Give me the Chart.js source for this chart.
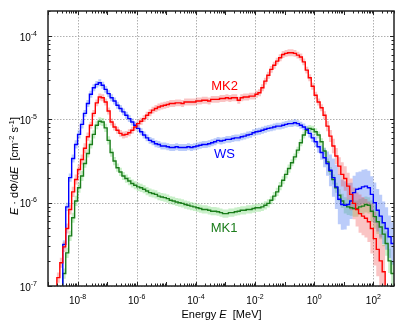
<!DOCTYPE html>
<html><head><meta charset="utf-8">
<script src="https://cdn.jsdelivr.net/npm/chart.js@4/dist/chart.umd.min.js"></script>
<style>html,body{margin:0;padding:0;background:#fff}#wrap{width:415px;height:323px}</style>
</head><body><div id="wrap"><canvas id="c" width="415" height="323" style="width:415px;height:323px"></canvas></div>
<script>
// Histogram bin edges, as log10(E / MeV)
const binEdgeExp = [
 -8.8,-8.7,-8.6,-8.5,-8.4,-8.3,-8.2,-8.1,-8.0,-7.9,
 -7.8,-7.7,-7.6,-7.5,-7.4,-7.3,-7.2,-7.1,-7.0,-6.9,
 -6.8,-6.7,-6.6,-6.5,-6.4,-6.3,-6.2,-6.1,-6.0,-5.9,
 -5.8,-5.7,-5.6,-5.5,-5.4,-5.3,-5.2,-5.1,-5.0,-4.9,
 -4.8,-4.7,-4.6,-4.5,-4.4,-4.3,-4.2,-4.1,-4.0,-3.9,
 -3.8,-3.7,-3.6,-3.5,-3.4,-3.3,-3.2,-3.1,-3.0,-2.9,
 -2.8,-2.7,-2.6,-2.5,-2.4,-2.3,-2.2,-2.1,-2.0,-1.9,
 -1.8,-1.7,-1.6,-1.5,-1.4,-1.3,-1.2,-1.1,-1.0,-0.9,
 -0.8,-0.7,-0.6,-0.5,-0.4,-0.3,-0.2,-0.1,0.0,0.1,
 0.2,0.3,0.4,0.5,0.6,0.7,0.8,0.9,1.0,1.1,
 1.2,1.3,1.4,1.5,1.6,1.7,1.8,1.9,2.0,2.1,
 2.2,2.3,2.4,2.5,2.6,2.7];

// E·dΦ/dE per bin [cm^-2 s^-1]
const mk2Flux = [
 7.9e-8,1.26e-7,1.9e-7,2.95e-7,4.9e-7,8.3e-7,1.35e-6,1.9e-6,2.5e-6,3.3e-6,
 4.5e-6,6.2e-6,8.5e-6,1.18e-5,1.58e-5,1.86e-5,1.82e-5,1.62e-5,1.26e-5,9.3e-6,
 8.1e-6,7.4e-6,6.8e-6,6.5e-6,6.6e-6,6.9e-6,7.4e-6,8.1e-6,8.9e-6,9.5e-6,
 1.02e-5,1.12e-5,1.20e-5,1.29e-5,1.35e-5,1.41e-5,1.45e-5,1.48e-5,1.51e-5,1.55e-5,
 1.55e-5,1.58e-5,1.58e-5,1.55e-5,1.62e-5,1.62e-5,1.62e-5,1.62e-5,1.66e-5,1.66e-5,
 1.70e-5,1.70e-5,1.66e-5,1.74e-5,1.74e-5,1.74e-5,1.78e-5,1.78e-5,1.82e-5,1.78e-5,
 1.82e-5,1.82e-5,1.70e-5,1.82e-5,1.86e-5,1.86e-5,1.9e-5,1.9e-5,2.0e-5,2.09e-5,
 2.4e-5,2.88e-5,3.39e-5,3.98e-5,4.47e-5,5.0e-5,5.5e-5,6.0e-5,6.2e-5,6.3e-5,
 6.3e-5,6.2e-5,5.9e-5,5.6e-5,4.9e-5,3.9e-5,3.16e-5,2.5e-5,1.95e-5,1.62e-5,
 1.38e-5,1.12e-5,8.3e-6,6.3e-6,4.8e-6,3.63e-6,2.75e-6,2.19e-6,1.95e-6,1.58e-6,
 1.26e-6,9.8e-7,8.3e-7,7.4e-7,6.9e-7,6.5e-7,5.9e-7,4.9e-7,3.7e-7,2.75e-7,
 2.0e-7,1.48e-7,7.9e-8,null,null];

const wsFlux = [
 null,null,5.0e-8,3.16e-7,8.9e-7,2.0e-6,3.39e-6,5.0e-6,6.6e-6,8.7e-6,
 1.18e-5,1.55e-5,2.0e-5,2.4e-5,2.63e-5,2.75e-5,2.57e-5,2.29e-5,2.04e-5,1.82e-5,
 1.66e-5,1.48e-5,1.35e-5,1.23e-5,1.12e-5,1.02e-5,9.3e-6,8.5e-6,7.8e-6,7.1e-6,
 6.5e-6,6.0e-6,5.6e-6,5.4e-6,5.1e-6,5.0e-6,4.8e-6,4.8e-6,4.7e-6,4.6e-6,
 4.6e-6,4.7e-6,4.6e-6,4.6e-6,4.6e-6,4.7e-6,4.6e-6,4.7e-6,4.8e-6,4.9e-6,
 5.0e-6,5.0e-6,5.1e-6,5.25e-6,5.4e-6,5.6e-6,5.5e-6,5.6e-6,5.75e-6,5.75e-6,
 5.9e-6,6.0e-6,6.0e-6,6.2e-6,6.3e-6,6.5e-6,6.6e-6,6.9e-6,7.1e-6,7.2e-6,
 7.4e-6,7.6e-6,7.8e-6,7.9e-6,8.1e-6,8.3e-6,8.3e-6,8.5e-6,8.7e-6,8.9e-6,
 8.9e-6,9.1e-6,8.9e-6,8.5e-6,8.1e-6,7.6e-6,6.8e-6,6.0e-6,5.4e-6,4.7e-6,
 4.0e-6,3.47e-6,2.95e-6,2.45e-6,2.0e-6,1.55e-6,1.10e-6,9.5e-7,9.3e-7,9.5e-7,
 1.05e-6,1.32e-6,1.45e-6,1.48e-6,1.55e-6,1.58e-6,1.51e-6,1.26e-6,1.0e-6,8.1e-7,
 6.9e-7,5.75e-7,4.9e-7,3.9e-7,3.24e-7];

const mk1Flux = [
 null,null,6.3e-8,1.41e-7,2.5e-7,4.0e-7,6.6e-7,1.05e-6,1.51e-6,2.09e-6,
 2.95e-6,3.9e-6,5.0e-6,6.6e-6,8.5e-6,9.5e-6,9.3e-6,7.9e-6,5.6e-6,4.0e-6,
 3.16e-6,2.63e-6,2.34e-6,2.09e-6,1.95e-6,1.82e-6,1.70e-6,1.62e-6,1.55e-6,1.51e-6,
 1.45e-6,1.38e-6,1.32e-6,1.29e-6,1.26e-6,1.20e-6,1.17e-6,1.15e-6,1.12e-6,1.07e-6,
 1.05e-6,1.02e-6,1.0e-6,9.8e-7,9.5e-7,9.3e-7,9.1e-7,8.9e-7,8.7e-7,8.5e-7,
 8.3e-7,8.3e-7,8.1e-7,7.9e-7,7.9e-7,7.8e-7,7.6e-7,7.4e-7,7.4e-7,7.6e-7,
 7.6e-7,7.8e-7,7.9e-7,8.1e-7,8.1e-7,8.3e-7,8.3e-7,8.5e-7,8.7e-7,8.7e-7,
 8.9e-7,9.3e-7,9.8e-7,1.07e-6,1.20e-6,1.35e-6,1.58e-6,1.86e-6,2.19e-6,2.57e-6,
 3.02e-6,3.55e-6,4.27e-6,5.25e-6,6.5e-6,7.4e-6,7.8e-6,7.6e-6,7.1e-6,6.5e-6,
 5.4e-6,4.17e-6,3.09e-6,2.4e-6,1.9e-6,1.51e-6,1.23e-6,1.05e-6,9.3e-7,8.9e-7,
 8.7e-7,8.5e-7,8.5e-7,8.9e-7,9.1e-7,9.5e-7,9.3e-7,7.9e-7,6.8e-7,5.9e-7,
 5.1e-7,4.2e-7,3.24e-7,2.0e-7,1.41e-7];

// Uncertainty band, as a multiplicative factor per bin (band = value/f .. value*f)
const mk2ErrFactor = [
 1.15,1.15,1.15,1.15,1.15,1.15,1.15,1.15,1.15,1.15,
 1.15,1.12,1.1,1.1,1.1,1.1,1.1,1.1,1.1,1.1,
 1.1,1.1,1.1,1.1,1.1,1.1,1.1,1.1,1.1,1.1,
 1.1,1.1,1.1,1.1,1.1,1.1,1.1,1.1,1.1,1.1,
 1.1,1.1,1.1,1.1,1.1,1.1,1.1,1.1,1.1,1.1,
 1.1,1.1,1.1,1.1,1.1,1.1,1.1,1.1,1.1,1.1,
 1.1,1.1,1.1,1.1,1.1,1.1,1.1,1.1,1.1,1.1,
 1.1,1.1,1.1,1.1,1.1,1.1,1.1,1.1,1.1,1.1,
 1.1,1.1,1.1,1.1,1.1,1.1,1.1,1.1,1.1,1.1,
 1.1,1.12,1.15,1.18,1.22,1.25,1.28,1.4,1.4,1.45,
 1.55,1.55,1.6,1.7,1.7,1.7,1.75,2.0,2.1,2.1,
 2.1,2.1,2.1,2.1,2.1];

const wsErrFactor = [
 1.12,1.12,1.12,1.12,1.12,1.12,1.12,1.12,1.12,1.12,
 1.1,1.1,1.1,1.1,1.1,1.1,1.1,1.1,1.1,1.1,
 1.1,1.1,1.1,1.1,1.1,1.1,1.1,1.1,1.1,1.1,
 1.1,1.1,1.1,1.1,1.1,1.1,1.1,1.1,1.1,1.1,
 1.1,1.1,1.1,1.1,1.1,1.1,1.1,1.1,1.1,1.1,
 1.1,1.1,1.1,1.1,1.1,1.1,1.1,1.1,1.1,1.1,
 1.1,1.1,1.1,1.1,1.1,1.1,1.1,1.1,1.1,1.1,
 1.1,1.1,1.1,1.1,1.1,1.1,1.1,1.1,1.1,1.1,
 1.1,1.1,1.1,1.1,1.1,1.1,1.12,1.12,1.15,1.18,
 1.22,1.3,1.4,1.55,1.7,1.85,2.0,2.0,1.95,1.8,
 1.65,1.6,1.6,1.6,1.6,1.6,1.6,1.65,1.75,1.8,
 1.8,1.8,1.8,1.8,1.8];

const mk1ErrFactor = [
 1.15,1.15,1.15,1.15,1.15,1.15,1.15,1.15,1.15,1.15,
 1.12,1.12,1.12,1.12,1.12,1.12,1.12,1.12,1.12,1.12,
 1.12,1.12,1.12,1.12,1.12,1.12,1.12,1.12,1.12,1.12,
 1.12,1.12,1.12,1.12,1.12,1.12,1.12,1.12,1.12,1.12,
 1.12,1.12,1.12,1.12,1.12,1.12,1.12,1.12,1.12,1.12,
 1.12,1.12,1.12,1.12,1.12,1.12,1.12,1.12,1.12,1.12,
 1.12,1.12,1.12,1.12,1.12,1.12,1.12,1.12,1.12,1.12,
 1.12,1.12,1.12,1.12,1.12,1.12,1.12,1.12,1.12,1.12,
 1.1,1.1,1.1,1.1,1.1,1.1,1.1,1.1,1.1,1.1,
 1.1,1.1,1.1,1.12,1.15,1.15,1.18,1.22,1.25,1.25,
 1.25,1.25,1.25,1.25,1.25,1.25,1.25,1.35,1.4,1.4,
 1.4,1.4,1.4,1.4,1.4];

const seriesNames = ['MK2', 'WS', 'MK1'];
const xTickExp = [-8, -6, -4, -2, 0, 2];
const yTickExp = [-7, -6, -5, -4];

// ---------- styling / layout (not data) ----------
const FONT = "'Liberation Sans', Arial, Helvetica, sans-serif";
const lineColors = {MK2: '#ff0000', WS: '#0000ff', MK1: '#1b7d1b'};
const bandColors = {MK2: 'rgba(240,60,60,0.30)', WS: 'rgba(60,110,240,0.35)', MK1: 'rgba(60,200,60,0.28)'};
const labelAt = {MK2: [9.3e-4, 2.5e-5], WS: [9.3e-4, 3.83e-6], MK1: [9.0e-4, 4.95e-7]};

const edges = binEdgeExp.map(e => Math.pow(10, e));
function stepPoints(vals) {
  const pts = vals.map((v, i) => ({x: edges[i], y: v}));
  pts.push({x: edges[vals.length], y: vals[vals.length - 1]});
  return pts;
}
function scaled(vals, fac, up) {
  return vals.map((v, i) => v == null ? null : (up ? v * fac[i] : v / fac[i]));
}
const seriesData = {MK2: [mk2Flux, mk2ErrFactor], WS: [wsFlux, wsErrFactor], MK1: [mk1Flux, mk1ErrFactor]};

const datasets = [];
seriesNames.forEach(name => {
  const [vals, fac] = seriesData[name];
  datasets.push({label: name + ' band+', data: stepPoints(scaled(vals, fac, true)), stepped: true,
    borderColor: 'rgba(0,0,0,0)', borderWidth: 0, backgroundColor: bandColors[name], fill: '+1', pointRadius: 0, order: 10});
  datasets.push({label: name + ' band-', data: stepPoints(scaled(vals, fac, false)), stepped: true,
    borderColor: 'rgba(0,0,0,0)', borderWidth: 0, fill: false, pointRadius: 0, order: 10});
});
['MK1', 'WS', 'MK2'].forEach((name, k) => {
  const [vals] = seriesData[name];
  datasets.push({label: name, data: stepPoints(vals), stepped: true, borderColor: lineColors[name],
    borderWidth: 1.4, fill: false, pointRadius: 0, order: 3 - k});
});

function richWidth(ctx, parts) { let w = 0; parts.forEach(p => { ctx.font = p.f; w += ctx.measureText(p.t).width; }); return w; }
function drawRich(ctx, parts, x, y) { parts.forEach(p => { ctx.font = p.f; ctx.fillText(p.t, x, y + (p.dy || 0)); x += ctx.measureText(p.t).width; }); }
function powParts(e) { return [{t: '10', f: '10px ' + FONT}, {t: String(e), f: '7px ' + FONT, dy: -5}]; }

const decor = {
  id: 'decor',
  beforeDatasetsDraw(chart) {
    const {ctx, chartArea: a, scales: {x, y}} = chart;
    ctx.save();
    ctx.strokeStyle = '#b0b0b0'; ctx.lineWidth = 1; ctx.setLineDash([1.5, 1.5]);
    xTickExp.forEach(e => { const px = Math.round(x.getPixelForValue(Math.pow(10, e))) + 0.5;
      ctx.beginPath(); ctx.moveTo(px, a.top); ctx.lineTo(px, a.bottom); ctx.stroke(); });
    yTickExp.forEach(e => { const py = Math.round(y.getPixelForValue(Math.pow(10, e))) + 0.5;
      ctx.beginPath(); ctx.moveTo(a.left, py); ctx.lineTo(a.right, py); ctx.stroke(); });
    ctx.restore();
  },
  afterDatasetsDraw(chart) {
    const {ctx, chartArea: a, scales: {x, y}} = chart;
    ctx.save();
    ctx.strokeStyle = '#222'; ctx.lineWidth = 1;
    // minor / major ticks on all four sides
    for (let e = -9; e <= 2; e++) for (let k = 1; k <= 9; k++) {
      const v = k * Math.pow(10, e); if (v < x.min * 0.999 || v > x.max) continue;
      const px = Math.round(x.getPixelForValue(v)) + 0.5, L = k === 1 ? 4 : 2.5;
      ctx.beginPath(); ctx.moveTo(px, a.bottom); ctx.lineTo(px, a.bottom - L);
      ctx.moveTo(px, a.top); ctx.lineTo(px, a.top + L); ctx.stroke();
    }
    for (let e = -7; e <= -4; e++) for (let k = 1; k <= 9; k++) {
      const v = k * Math.pow(10, e); if (v < y.min * 0.999 || v > y.max) continue;
      const py = Math.round(y.getPixelForValue(v)) + 0.5, L = k === 1 ? 4 : 2.5;
      ctx.beginPath(); ctx.moveTo(a.left, py); ctx.lineTo(a.left + L, py);
      ctx.moveTo(a.right, py); ctx.lineTo(a.right - L, py); ctx.stroke();
    }
    // frame
    ctx.lineWidth = 1.5; ctx.strokeStyle = '#222';
    ctx.strokeRect(a.left, a.top, a.right - a.left, a.bottom - a.top);
    // tick labels
    ctx.fillStyle = '#000'; ctx.textBaseline = 'alphabetic'; ctx.textAlign = 'left';
    xTickExp.forEach(e => { const parts = powParts(e); const w = richWidth(ctx, parts);
      drawRich(ctx, parts, x.getPixelForValue(Math.pow(10, e)) - w / 2, a.bottom + 17.5); });
    yTickExp.forEach(e => { const parts = powParts(e); const w = richWidth(ctx, parts);
      drawRich(ctx, parts, 37 - w, y.getPixelForValue(Math.pow(10, e)) + 4.5); });
    // axis titles
    const xt = [{t: 'Energy ', f: '11px ' + FONT}, {t: 'E', f: 'italic 11px ' + FONT}, {t: '  [MeV]', f: '11px ' + FONT}];
    drawRich(ctx, xt, 221.5 - richWidth(ctx, xt) / 2, 318);
    const yt = [{t: 'E', f: 'italic 11px ' + FONT}, {t: ' · dΦ/d', f: '11px ' + FONT}, {t: 'E', f: 'italic 11px ' + FONT},
      {t: '  [cm', f: '11px ' + FONT}, {t: '-2', f: '8px ' + FONT, dy: -4.5}, {t: ' s', f: '11px ' + FONT},
      {t: '-1', f: '8px ' + FONT, dy: -4.5}, {t: ']', f: '11px ' + FONT}];
    ctx.translate(18, 166); ctx.rotate(-Math.PI / 2);
    drawRich(ctx, yt, -richWidth(ctx, yt) / 2, 0);
    ctx.setTransform(1, 0, 0, 1, 0, 0);
    // series labels
    ctx.font = '13px ' + FONT; ctx.textAlign = 'center'; ctx.textBaseline = 'middle';
    seriesNames.forEach(n => { ctx.fillStyle = lineColors[n];
      ctx.fillText(n, x.getPixelForValue(labelAt[n][0]), y.getPixelForValue(labelAt[n][1])); });
    ctx.restore();
  }
};

new Chart(document.getElementById('c'), {
  type: 'line',
  data: {datasets},
  options: {
    responsive: false, animation: false, devicePixelRatio: 1,
    layout: {padding: {top: 11, right: 21, left: 0, bottom: 0}},
    plugins: {legend: {display: false}, tooltip: {enabled: false}},
    elements: {point: {radius: 0}, line: {tension: 0}},
    scales: {
      x: {type: 'logarithmic', min: 1e-9, max: 500,
        afterBuildTicks: s => { s.ticks = xTickExp.map(e => ({value: Math.pow(10, e)})); },
        ticks: {display: false}, grid: {display: false}, border: {display: false},
        afterFit: s => { s.height = 37; }},
      y: {type: 'logarithmic', min: 1e-7, max: 2e-4,
        afterBuildTicks: s => { s.ticks = yTickExp.map(e => ({value: Math.pow(10, e)})); },
        ticks: {display: false}, grid: {display: false}, border: {display: false},
        afterFit: s => { s.width = 48; }}
    }
  },
  plugins: [decor]
});
</script></body></html>
